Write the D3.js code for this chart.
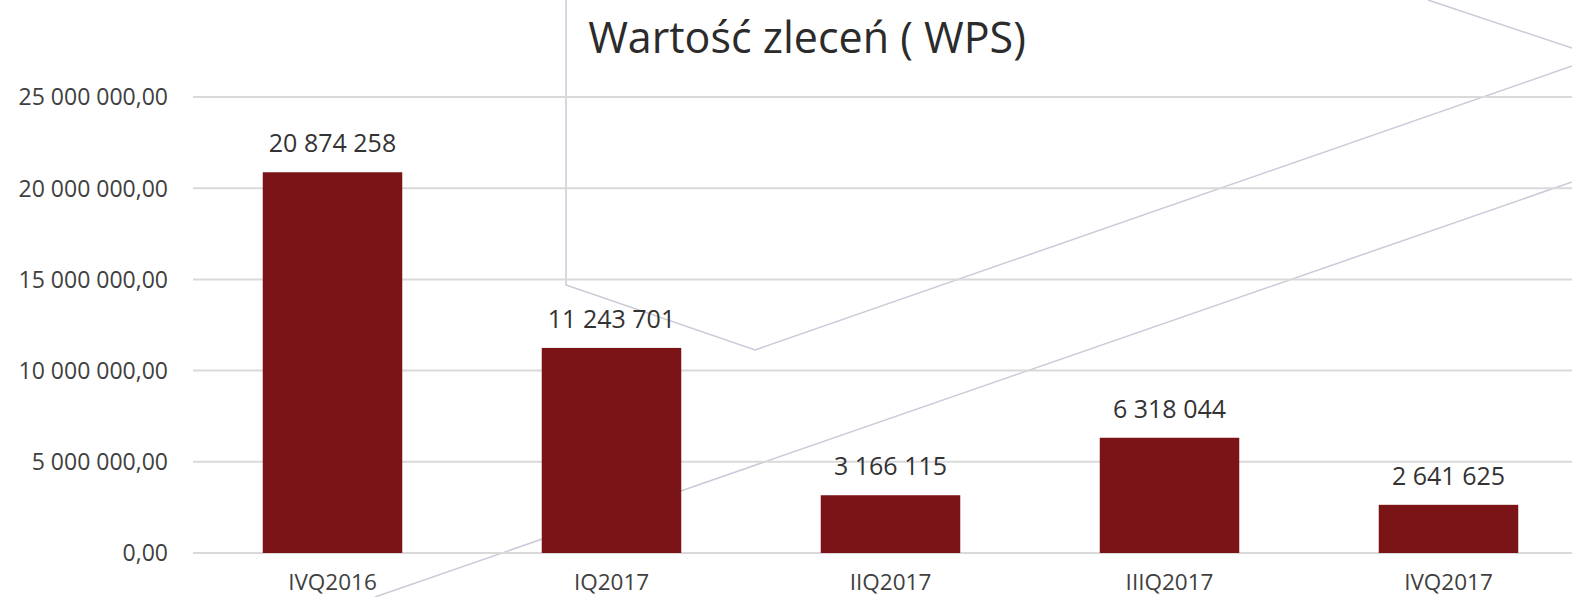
<!DOCTYPE html>
<html>
<head>
<meta charset="utf-8">
<script src="https://cdn.jsdelivr.net/npm/d3@7"></script>
<style>
  html, body { margin: 0; padding: 0; background: #ffffff; overflow: hidden; }
  text { font-family: "Open Sans", "Noto Sans", sans-serif; }
</style>
</head>
<body>
<svg id="chart" width="1572" height="597"></svg>
<script>
// ---- data ----
const title = "Wartość zleceń ( WPS)";
const categories = ["IVQ2016", "IQ2017", "IIQ2017", "IIIQ2017", "IVQ2017"];
const values = [20874258, 11243701, 3166115, 6318044, 2641625];
const yTicks = [0, 5000000, 10000000, 15000000, 20000000, 25000000];

// decorative background strokes (not data)
const decor = [
  [[566, 0], [566, 285], [755, 350], [1572, 66]],
  [[1428, 0], [1572, 48]],
  [[375, 597], [1572, 182]]
];

const W = 1572, H = 597;
const svg = d3.select("#chart");

const pl = d3.formatLocale({ decimal: ",", thousands: "\u00a0", grouping: [3], currency: ["", ""] });
const fmtTick = pl.format(",.2f");
const fmtVal = pl.format(",d");

const x = d3.scaleBand().domain(categories).range([193, 1588]).paddingInner(0.5).paddingOuter(0.25);
const y = d3.scaleLinear().domain([0, 25000000]).range([553, 97]);

// decoration
svg.append("g").selectAll("path").data(decor).join("path")
  .attr("d", d => d3.line()(d))
  .attr("fill", "none")
  .attr("stroke", "#cacad8")
  .attr("stroke-width", 1.5);

// gridlines + y labels via axis
const yAxis = d3.axisLeft(y).tickValues(yTicks).tickFormat(fmtTick).tickSize(0).tickPadding(0);
const gy = svg.append("g").attr("transform", "translate(168,0)").call(yAxis);
gy.select(".domain").remove();
gy.selectAll("text")
  .attr("fill", "#404040")
  .style("font-size", "23px")
  .attr("dy", "0.34em");

svg.append("g").selectAll("line").data(yTicks).join("line")
  .attr("x1", 193).attr("x2", W)
  .attr("y1", d => y(d)).attr("y2", d => y(d))
  .attr("stroke", "#d9d9d9").attr("stroke-width", 2);

// bars
svg.append("g").selectAll("rect").data(values).join("rect")
  .attr("x", (d, i) => x(categories[i]))
  .attr("width", x.bandwidth())
  .attr("y", d => y(d))
  .attr("height", d => y(0) - y(d))
  .attr("fill", "#7a1416");

// value labels
svg.append("g").selectAll("text").data(values).join("text")
  .attr("x", (d, i) => x(categories[i]) + x.bandwidth() / 2)
  .attr("y", d => y(d) - 20)
  .attr("text-anchor", "middle")
  .attr("fill", "#333333")
  .style("font-size", "25px")
  .text(d => fmtVal(d));

// x axis labels
const xAxis = d3.axisBottom(x).tickSize(0).tickPadding(0);
const gx = svg.append("g").attr("transform", "translate(0,553)").call(xAxis);
gx.select(".domain").remove();
gx.selectAll("text")
  .attr("y", 37)
  .attr("dy", 0)
  .attr("fill", "#404040")
  .style("font-size", "22.5px");

// title
svg.append("text")
  .attr("x", 807).attr("y", 53)
  .attr("text-anchor", "middle")
  .attr("fill", "#2b2b2b")
  .style("font-size", "43px")
  .text(title);
</script>
</body>
</html>
